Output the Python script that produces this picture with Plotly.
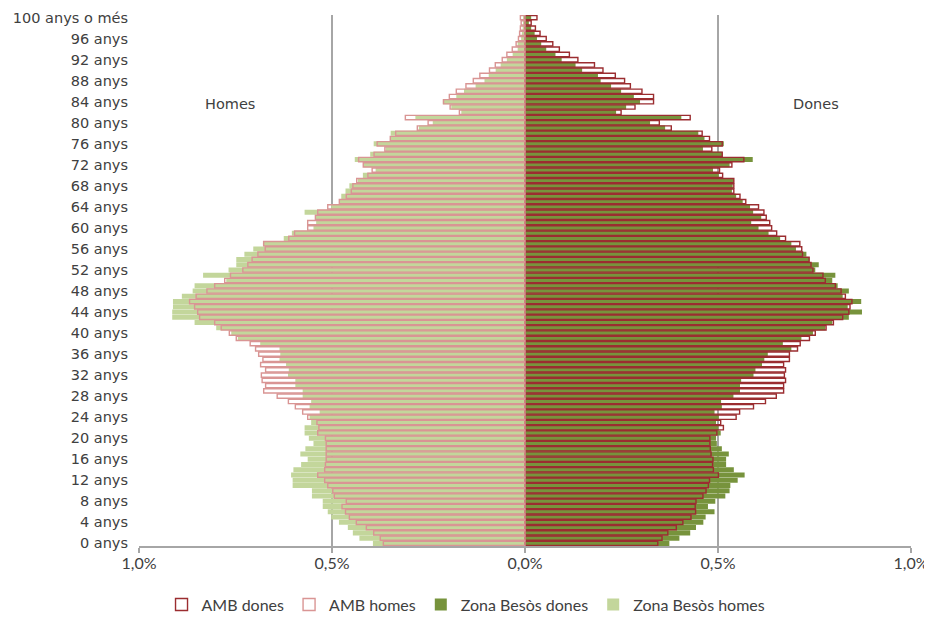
import plotly.graph_objects as go

ages = list(range(0, 101))

amb_homes = [0.367, 0.375, 0.392, 0.411, 0.437, 0.455, 0.465, 0.474, 0.463, 0.494,
             0.498, 0.511, 0.519, 0.537, 0.519, 0.517, 0.515, 0.515, 0.515, 0.515,
             0.517, 0.537, 0.534, 0.539, 0.563, 0.576, 0.595, 0.613, 0.642, 0.677,
             0.672, 0.681, 0.683, 0.672, 0.685, 0.679, 0.690, 0.698, 0.712, 0.748,
             0.766, 0.787, 0.804, 0.843, 0.848, 0.856, 0.869, 0.852, 0.824, 0.804,
             0.778, 0.763, 0.731, 0.718, 0.707, 0.692, 0.673, 0.677, 0.612, 0.597,
             0.563, 0.563, 0.543, 0.537, 0.511, 0.481, 0.463, 0.450, 0.446, 0.436,
             0.407, 0.396, 0.419, 0.431, 0.391, 0.363, 0.383, 0.349, 0.335, 0.279,
             0.251, 0.310, 0.170, 0.194, 0.211, 0.196, 0.178, 0.153, 0.134, 0.117,
             0.092, 0.077, 0.059, 0.047, 0.033, 0.023, 0.017, 0.014, 0.012, 0.010,
             0.012]

zona_homes = [0.394, 0.429, 0.446, 0.459, 0.482, 0.502, 0.511, 0.524, 0.524, 0.552,
              0.552, 0.602, 0.602, 0.606, 0.600, 0.580, 0.563, 0.582, 0.569, 0.548,
              0.560, 0.571, 0.571, 0.554, 0.558, 0.532, 0.558, 0.554, 0.576, 0.576,
              0.595, 0.595, 0.614, 0.612, 0.619, 0.636, 0.634, 0.636, 0.686, 0.744,
              0.761, 0.800, 0.856, 0.914, 0.914, 0.912, 0.912, 0.889, 0.861, 0.856,
              0.774, 0.834, 0.768, 0.748, 0.748, 0.727, 0.704, 0.679, 0.625, 0.604,
              0.548, 0.541, 0.543, 0.571, 0.502, 0.481, 0.476, 0.465, 0.455, 0.433,
              0.420, 0.387, 0.418, 0.441, 0.401, 0.361, 0.392, 0.349, 0.348, 0.275,
              0.239, 0.284, 0.165, 0.191, 0.213, 0.178, 0.158, 0.128, 0.105, 0.094,
              0.076, 0.063, 0.047, 0.032, 0.019, 0.019, 0.010, 0.008, 0.006, 0.005,
              0.004]

amb_dones = [0.344, 0.355, 0.370, 0.392, 0.409, 0.430, 0.442, 0.441, 0.443, 0.461,
             0.469, 0.475, 0.478, 0.501, 0.488, 0.486, 0.487, 0.482, 0.480, 0.479,
             0.479, 0.497, 0.514, 0.507, 0.547, 0.556, 0.592, 0.623, 0.651, 0.670,
             0.670, 0.675, 0.672, 0.675, 0.670, 0.685, 0.685, 0.706, 0.713, 0.737,
             0.752, 0.780, 0.799, 0.823, 0.839, 0.842, 0.847, 0.830, 0.819, 0.804,
             0.778, 0.772, 0.746, 0.741, 0.736, 0.719, 0.717, 0.712, 0.675, 0.652,
             0.639, 0.634, 0.625, 0.619, 0.605, 0.572, 0.557, 0.541, 0.541, 0.541,
             0.512, 0.504, 0.536, 0.567, 0.511, 0.484, 0.511, 0.478, 0.459, 0.379,
             0.348, 0.428, 0.249, 0.285, 0.333, 0.333, 0.303, 0.273, 0.258, 0.234,
             0.202, 0.180, 0.137, 0.115, 0.089, 0.072, 0.055, 0.039, 0.027, 0.016,
             0.031]

zona_dones = [0.374, 0.400, 0.428, 0.443, 0.462, 0.468, 0.491, 0.474, 0.493, 0.519,
              0.530, 0.532, 0.551, 0.569, 0.541, 0.521, 0.521, 0.528, 0.510, 0.497,
              0.495, 0.507, 0.501, 0.495, 0.502, 0.491, 0.510, 0.508, 0.540, 0.557,
              0.557, 0.560, 0.592, 0.597, 0.614, 0.620, 0.629, 0.690, 0.668, 0.716,
              0.746, 0.778, 0.796, 0.839, 0.873, 0.836, 0.871, 0.823, 0.839, 0.810,
              0.796, 0.804, 0.752, 0.761, 0.737, 0.729, 0.702, 0.690, 0.661, 0.631,
              0.605, 0.586, 0.612, 0.591, 0.583, 0.564, 0.547, 0.536, 0.538, 0.541,
              0.502, 0.487, 0.530, 0.590, 0.511, 0.461, 0.515, 0.465, 0.449, 0.363,
              0.324, 0.405, 0.236, 0.262, 0.298, 0.282, 0.249, 0.223, 0.196, 0.189,
              0.148, 0.131, 0.095, 0.079, 0.055, 0.042, 0.031, 0.025, 0.016, 0.010,
              0.016]

tick_ages = list(range(0, 100, 4)) + [100]
tick_labels = [f"{a} anys" for a in range(0, 100, 4)] + ["100 anys o més"]
x_ticks = [-1.0, -0.5, 0.0, 0.5, 1.0]
x_labels = ["1,0%", "0,5%", "0,0%", "0,5%", "1,0%"]

C_AMB_D = "#9b2d30"
C_AMB_H = "#d99594"
C_ZB_D = "#77933c"
C_ZB_H = "#c3d69b"
C_AXIS = "#a6a6a6"

fig = go.Figure()
fig.add_trace(go.Bar(y=ages, x=zona_dones, orientation="h", name="Zona Besòs dones",
                     marker=dict(color=C_ZB_D, line=dict(width=0)), width=0.96,
                     legendrank=3))
fig.add_trace(go.Bar(y=ages, x=[-v for v in zona_homes], orientation="h", name="Zona Besòs homes",
                     marker=dict(color=C_ZB_H, line=dict(width=0)), width=0.96,
                     legendrank=4))
fig.add_trace(go.Bar(y=ages, x=amb_dones, orientation="h", name="AMB dones",
                     marker=dict(color="rgba(0,0,0,0)", line=dict(color=C_AMB_D, width=1.4)),
                     width=0.82, legendrank=1))
fig.add_trace(go.Bar(y=ages, x=[-v for v in amb_homes], orientation="h", name="AMB homes",
                     marker=dict(color="rgba(0,0,0,0)", line=dict(color=C_AMB_H, width=1.4)),
                     width=0.82, legendrank=2))

label_font = dict(family="DejaVu Sans, sans-serif", size=14.5, color="#404040")
narrow_font = dict(family="Liberation Sans Narrow, Lato, sans-serif", size=16, color="#404040")

# page has an 8px body margin, so the figure is sized to fit the 932x618 window
fig.update_layout(
    width=924, height=610,
    margin=dict(l=131, r=21, t=7, b=72, autoexpand=False),
    barmode="overlay",
    plot_bgcolor="white", paper_bgcolor="white",
    showlegend=True,
    legend=dict(orientation="h", xref="container", x=0.4957, xanchor="center",
                yref="container", y=0.022, yanchor="middle",
                font=narrow_font, itemwidth=30, tracegroupgap=0, traceorder="normal"),
    xaxis=dict(range=[-1.0, 1.0], tickvals=x_ticks, ticktext=x_labels,
               showgrid=True, gridcolor=C_AXIS, gridwidth=2,
               zeroline=True, zerolinecolor=C_AXIS, zerolinewidth=2,
               showline=True, linecolor=C_AXIS, linewidth=2,
               ticks="outside", ticklen=5, tickcolor=C_AXIS, tickwidth=1.5,
               ticklabelstandoff=-3,
               tickfont=narrow_font, fixedrange=True),
    yaxis=dict(range=[-0.5, 100.5], tickvals=tick_ages, ticktext=tick_labels,
               showgrid=False, zeroline=False, showline=False, ticks="",
               ticklabelstandoff=10, tickfont=label_font, fixedrange=True),
    annotations=[
        dict(text="Homes", x=-0.5, xref="x", xshift=-102, y=83.6, yref="y",
             showarrow=False, font=label_font),
        dict(text="Dones", x=0.5, xref="x", xshift=98, y=83.6, yref="y",
             showarrow=False, font=label_font),
    ],
)

fig.write_html("out.html")
